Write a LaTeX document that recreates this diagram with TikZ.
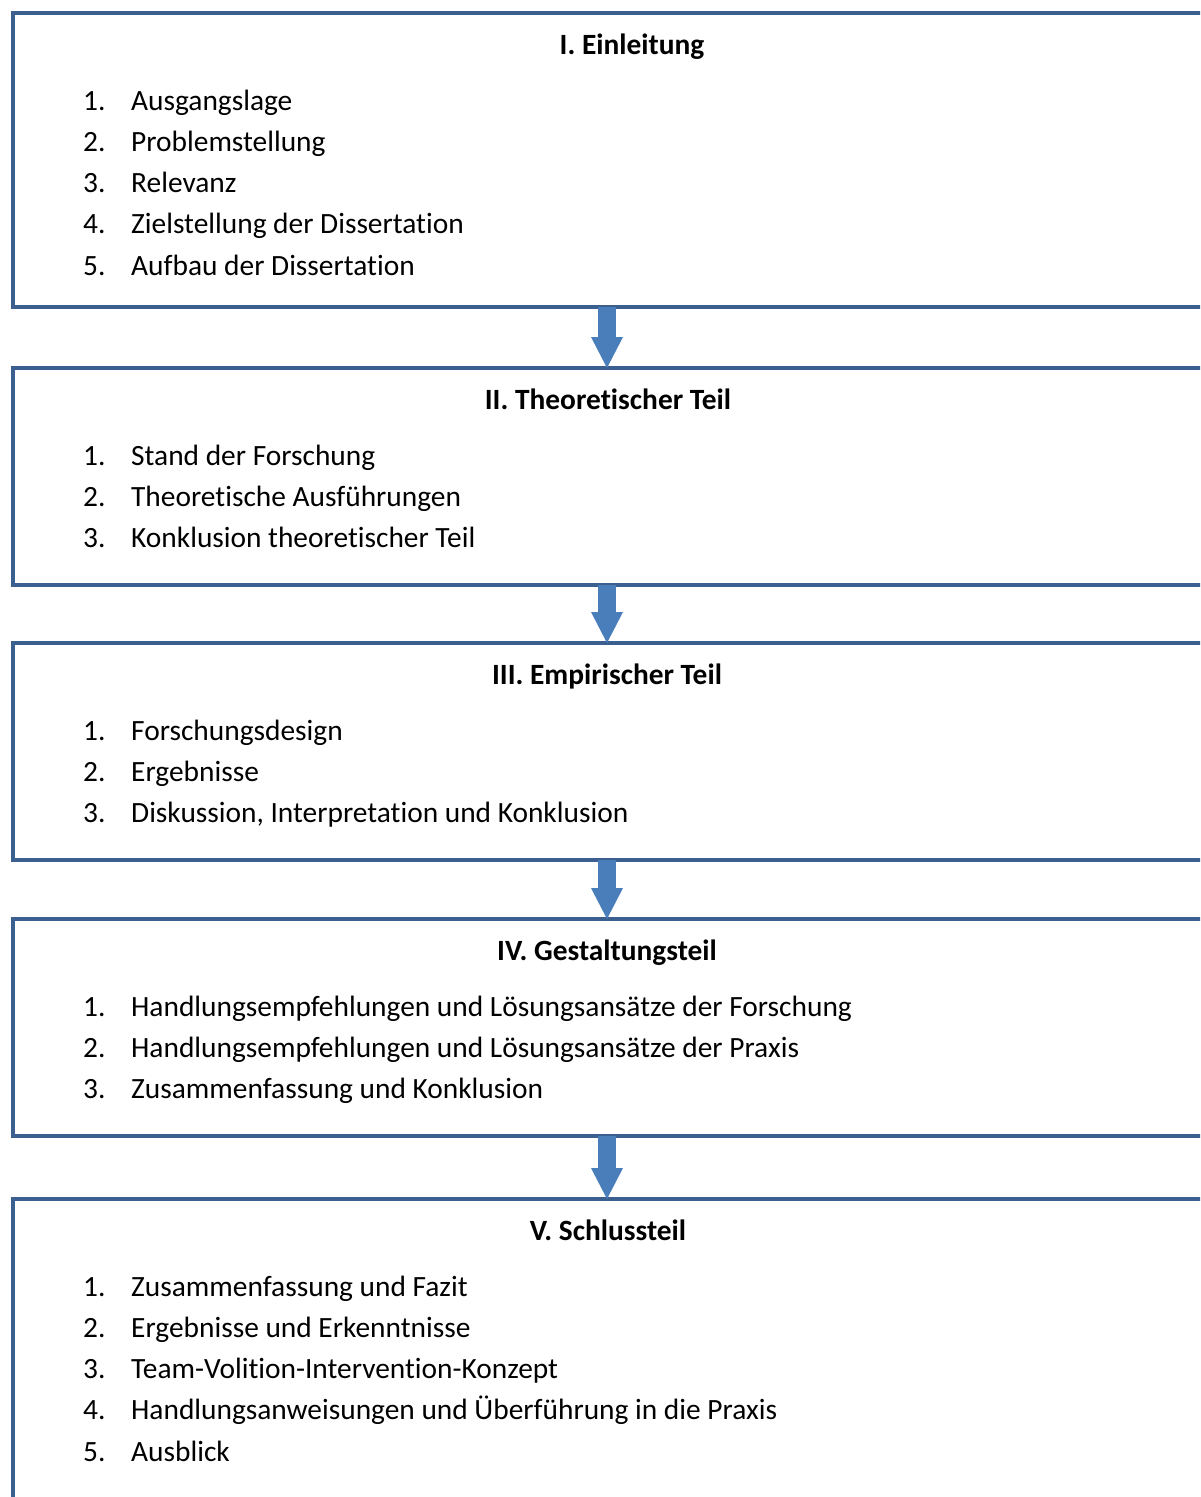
\documentclass[tikz,border=0pt]{standalone}
\usepackage{fontspec}
\setmainfont[Ligatures=NoCommon]{Carlito}
\usetikzlibrary{arrows.meta}
\definecolor{boxblue}{RGB}{59,95,143}
\definecolor{arrowblue}{RGB}{74,126,187}
\begin{document}
\begin{tikzpicture}[x=1pt,y=-1pt,
    chapbox/.style={draw=boxblue,line width=4pt,anchor=north west,minimum width=1192pt,inner sep=0pt,outer sep=0pt},
    chaptitle/.style={anchor=base,inner sep=0pt,font=\fontsize{29.4}{35}\selectfont\bfseries},
    chapitem/.style={anchor=base west,inner sep=0pt,font=\fontsize{29.4}{35}\selectfont},
    flow/.style={arrowblue,line width=18pt,-{Triangle[width=32pt,length=31pt,line width=0pt]}}]
        \useasboundingbox (0,0) rectangle (1200,1497);
        \clip (0,0) rectangle (1200,1497);
        % chapter boxes
        \node[chapbox,minimum height=294pt] (einl) at (13,13) {};
        \node[chapbox,minimum height=217pt] (theo) at (13,368) {};
        \node[chapbox,minimum height=217pt] (empi) at (13,643) {};
        \node[chapbox,minimum height=217pt] (gest) at (13,919) {};
        \node[chapbox,minimum height=330pt] (schl) at (13,1199) {};
        % arrows between the chapters
        \draw[flow] (einl.south -| 607,0) -- (theo.north -| 607,0);
        \draw[flow] (theo.south -| 607,0) -- (empi.north -| 607,0);
        \draw[flow] (empi.south -| 607,0) -- (gest.north -| 607,0);
        \draw[flow] (gest.south -| 607,0) -- (schl.north -| 607,0);
        % I.
        \node[chaptitle] (einl-t) at (632,54) {I. Einleitung};
        \node[chapitem] (einl-1) at (83,110) {\makebox[48pt][l]{1.}Ausgangslage};
        \node[chapitem] (einl-2) at (83,151.25) {\makebox[48pt][l]{2.}Problemstellung};
        \node[chapitem] (einl-3) at (83,192.5) {\makebox[48pt][l]{3.}Relevanz};
        \node[chapitem] (einl-4) at (83,233.75) {\makebox[48pt][l]{4.}Zielstellung der Dissertation};
        \node[chapitem] (einl-5) at (83,275) {\makebox[48pt][l]{5.}Aufbau der Dissertation};
        % II.
        \node[chaptitle] (theo-t) at (608,409) {II. Theoretischer Teil};
        \node[chapitem] (theo-1) at (83,465) {\makebox[48pt][l]{1.}Stand der Forschung};
        \node[chapitem] (theo-2) at (83,506.25) {\makebox[48pt][l]{2.}Theoretische Ausführungen};
        \node[chapitem] (theo-3) at (83,547.5) {\makebox[48pt][l]{3.}Konklusion theoretischer Teil};
        % III.
        \node[chaptitle] (empi-t) at (607,684) {III. Empirischer Teil};
        \node[chapitem] (empi-1) at (83,740) {\makebox[48pt][l]{1.}Forschungsdesign};
        \node[chapitem] (empi-2) at (83,781.25) {\makebox[48pt][l]{2.}Ergebnisse};
        \node[chapitem] (empi-3) at (83,822.5) {\makebox[48pt][l]{3.}Diskussion, Interpretation und Konklusion};
        % IV.
        \node[chaptitle] (gest-t) at (607,960) {IV. Gestaltungsteil};
        \node[chapitem] (gest-1) at (83,1016) {\makebox[48pt][l]{1.}Handlungsempfehlungen und Lösungsansätze der Forschung};
        \node[chapitem] (gest-2) at (83,1057.25) {\makebox[48pt][l]{2.}Handlungsempfehlungen und Lösungsansätze der Praxis};
        \node[chapitem] (gest-3) at (83,1098.5) {\makebox[48pt][l]{3.}Zusammenfassung und Konklusion};
        % V.
        \node[chaptitle] (schl-t) at (608,1240) {V. Schlussteil};
        \node[chapitem] (schl-1) at (83,1296) {\makebox[48pt][l]{1.}Zusammenfassung und Fazit};
        \node[chapitem] (schl-2) at (83,1337.25) {\makebox[48pt][l]{2.}Ergebnisse und Erkenntnisse};
        \node[chapitem] (schl-3) at (83,1378.5) {\makebox[48pt][l]{3.}Team-Volition-Intervention-Konzept};
        \node[chapitem] (schl-4) at (83,1419.75) {\makebox[48pt][l]{4.}Handlungsanweisungen und Überführung in die Praxis};
        \node[chapitem] (schl-5) at (83,1461) {\makebox[48pt][l]{5.}Ausblick};
    \end{tikzpicture}
\end{document}
